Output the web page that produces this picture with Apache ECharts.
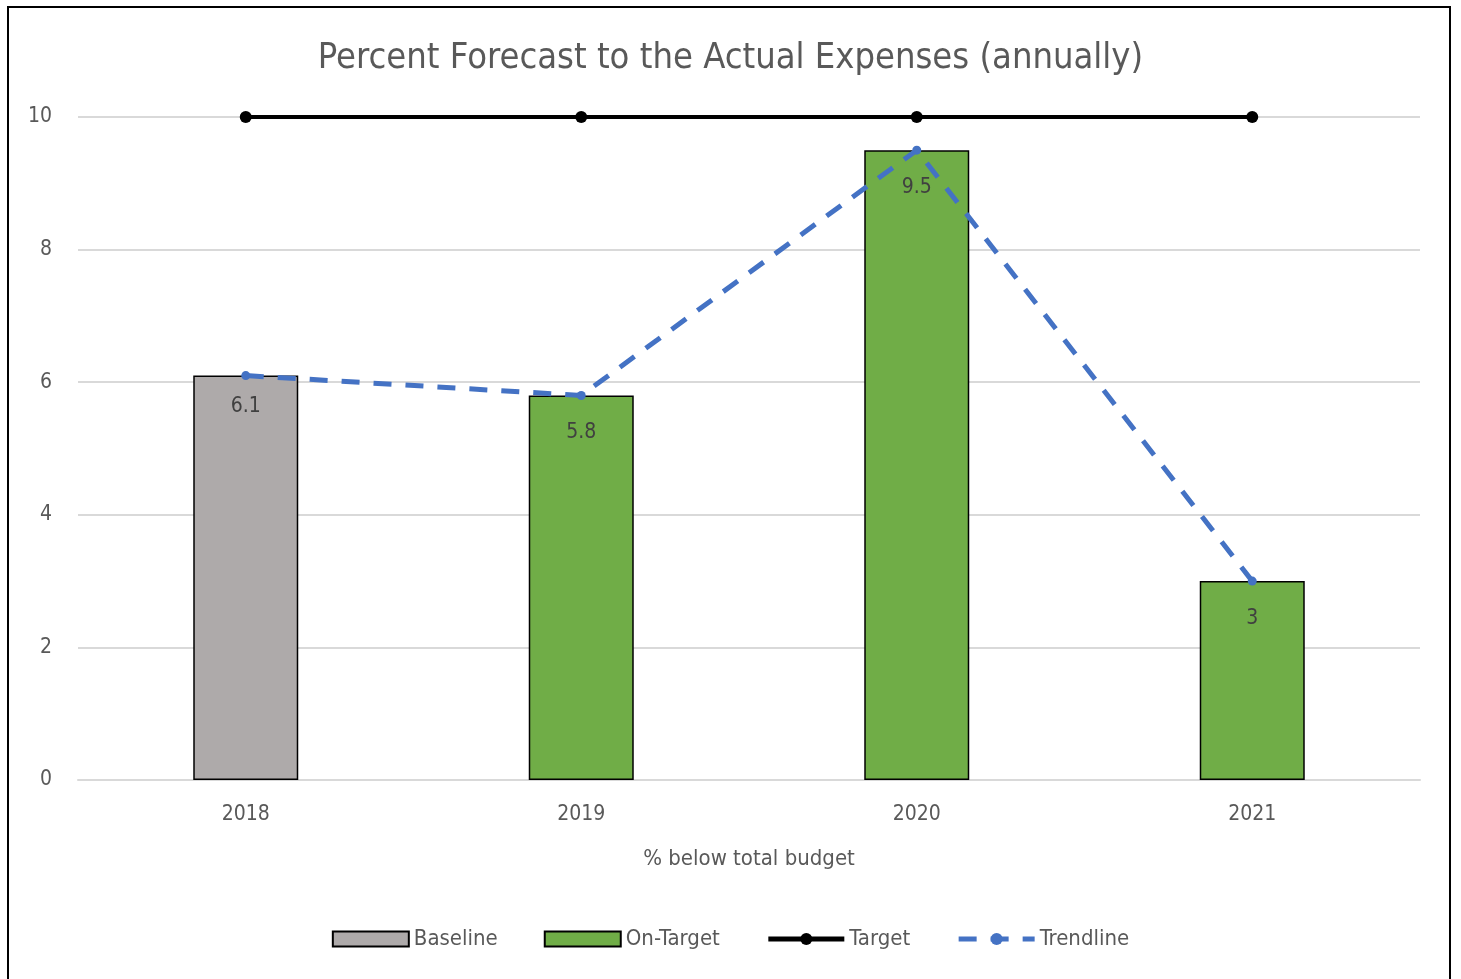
<!DOCTYPE html>
<html>
<head>
<meta charset="utf-8">
<script src="https://cdn.jsdelivr.net/npm/echarts@6/dist/echarts.min.js"></script>
<style>
html,body{margin:0;padding:0;background:#fff;}
#frame{position:absolute;left:7px;top:6px;width:1444px;height:990px;border:2px solid #000;box-sizing:border-box;}
#chart{position:absolute;left:0;top:0;width:1461px;height:979px;}
</style>
</head>
<body>
<div id="frame"></div>
<div id="chart"></div>
<script>
const categories = ['2018', '2019', '2020', '2021'];
const baselineValues = [6.1, null, null, null];
const onTargetValues = [null, 5.8, 9.5, 3];
const targetValues = [10, 10, 10, 10];
const trendValues = [6.1, 5.8, 9.5, 3];
const yTicks = [0, 2, 4, 6, 8, 10];

const font = "'Liberation Sans Narrow', 'DejaVu Sans Condensed', 'Liberation Sans', sans-serif";
const chart = echarts.init(document.getElementById('chart'));
chart.setOption({
  animation: false,
  title: {
    text: 'Percent Forecast to the Actual Expenses (annually)',
    left: 'center', top: 36,
    textStyle: {fontFamily: font, fontSize: 36, fontWeight: 'normal', color: '#595959'}
  },
  grid: {left: 78, right: 41, top: 117, bottom: 199},
  legend: {
    bottom: 24, left: 'center', itemGap: 46, itemWidth: 76, itemHeight: 15,
    textStyle: {fontFamily: font, fontSize: 22, color: '#595959'},
    data: [
      {name: 'Baseline', icon: 'rect'},
      {name: 'On-Target', icon: 'rect'},
      {name: 'Target', lineStyle: {width: 5}},
      {name: 'Trendline', lineStyle: {width: 5}}
    ]
  },
  xAxis: {
    type: 'category', data: categories,
    name: '% below total budget', nameLocation: 'middle', nameGap: 68,
    nameTextStyle: {fontFamily: font, fontSize: 22, color: '#595959'},
    axisLine: {lineStyle: {color: '#d9d9d9', width: 2}},
    axisTick: {show: false},
    axisLabel: {fontFamily: font, fontSize: 21, color: '#595959', margin: 24}
  },
  yAxis: {
    type: 'value', min: yTicks[0], max: yTicks[yTicks.length - 1], interval: 2,
    axisLine: {show: false}, axisTick: {show: false},
    splitLine: {lineStyle: {color: '#d9d9d9', width: 2}},
    axisLabel: {fontFamily: font, fontSize: 21, color: '#595959', margin: 26}
  },
  series: [
    {
      name: 'Baseline', type: 'bar', stack: 'b', data: baselineValues, barWidth: 105,
      itemStyle: {color: '#aeaaaa', borderColor: '#000', borderWidth: 1.5},
      label: {show: true, position: 'insideTop', distance: 20, fontFamily: font, fontSize: 21, color: '#404040'}
    },
    {
      name: 'On-Target', type: 'bar', stack: 'b', data: onTargetValues, barWidth: 105,
      itemStyle: {color: '#70ad47', borderColor: '#000', borderWidth: 1.5},
      label: {show: true, position: 'insideTop', distance: 27, fontFamily: font, fontSize: 21, color: '#404040'}
    },
    {
      name: 'Target', type: 'line', data: targetValues, symbol: 'circle', symbolSize: 12,
      lineStyle: {color: '#000', width: 4}, itemStyle: {color: '#000'}
    },
    {
      name: 'Trendline', type: 'line', data: trendValues, symbol: 'circle', symbolSize: 9,
      lineStyle: {color: '#4472c4', width: 5, type: [18, 14]}, itemStyle: {color: '#4472c4'}
    }
  ]
});
</script>
</body>
</html>
